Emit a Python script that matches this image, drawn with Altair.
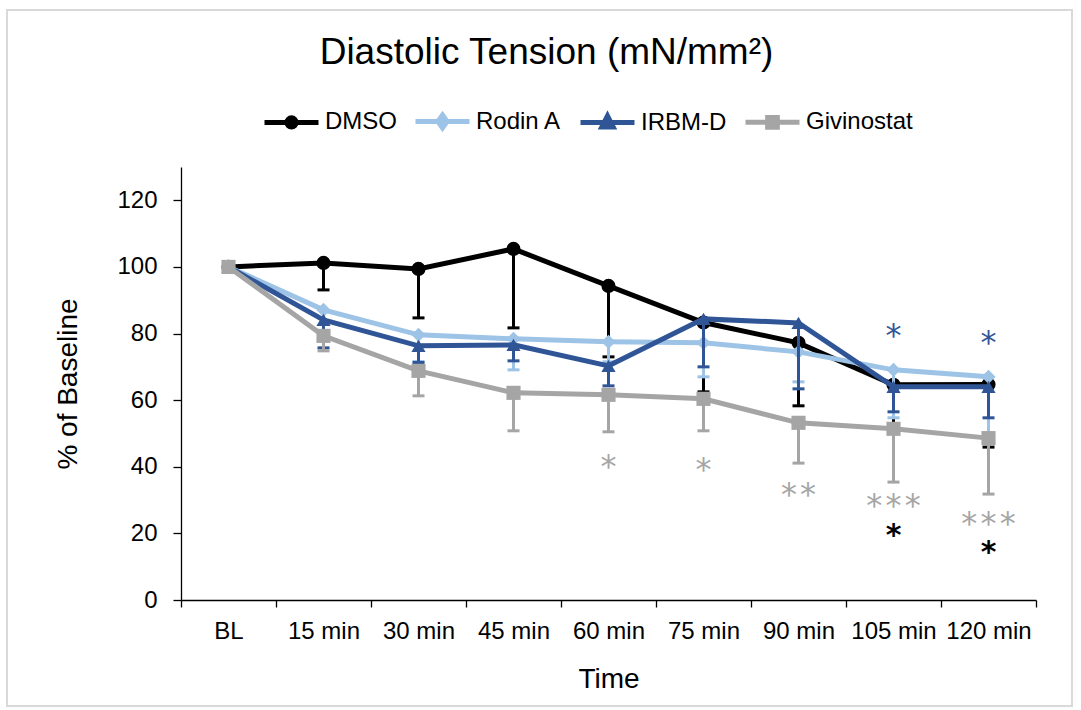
import altair as alt
import pandas as pd

# Time points and series definitions
times = ["BL", "15 min", "30 min", "45 min", "60 min", "75 min", "90 min", "105 min", "120 min"]
series_names = ["DMSO", "Rodin A", "IRBM-D", "Givinostat"]
series_colors = ["#000000", "#9DC3E6", "#2F5597", "#A5A5A5"]
series_shapes = ["circle", "diamond", "triangle-up", "square"]

# Mean diastolic tension (% of baseline)
dmso = [100, 101.2, 99.4, 105.4, 94.3, 83.3, 77.2, 64.6, 64.7]
rodin_a = [100, 87.1, 79.6, 78.4, 77.5, 77.2, 74.5, 69.1, 67.0]
irbm_d = [100, 84.1, 76.3, 76.6, 70.3, 84.4, 83.2, 64.0, 64.0]
givinostat = [100, 79.3, 68.8, 62.2, 61.6, 60.4, 53.2, 51.4, 48.6]

# Lower error (SEM)
dmso_sem = [0, 8.1, 14.7, 23.7, 21.3, 20.8, 18.9, 13.6, 18.8]
rodin_a_sem = [0, 6.5, 8.0, 9.3, 6.0, 10.2, 9.0, 14.4, 17.0]
irbm_d_sem = [0, 8.4, 5.0, 4.8, 6.0, 14.4, 19.8, 7.5, 9.3]
givinostat_sem = [0, 4.5, 7.5, 11.4, 11.1, 9.6, 12.1, 16.0, 16.8]

# Significance markers
HS = "\u200a"  # hair space between stars
sig_time = ["60 min", "75 min", "90 min", "105 min", "105 min", "120 min", "120 min", "105 min", "120 min"]
sig_y = [41.4, 40.5, 33.0, 29.7, 20.7, 24.3, 15.6, 80.8, 78.7]
sig_text = ["*", "*", HS.join("**"), HS.join("***"), "*", HS.join("***"), "*", "*", "*"]
sig_color = ["#A5A5A5", "#A5A5A5", "#A5A5A5", "#A5A5A5", "#000000", "#A5A5A5", "#000000", "#2F5597", "#2F5597"]

means = [dmso, rodin_a, irbm_d, givinostat]
sems = [dmso_sem, rodin_a_sem, irbm_d_sem, givinostat_sem]

rows = []
for name, m, e in zip(series_names, means, sems):
    for t, v, s in zip(times, m, e):
        rows.append({"time": t, "series": name, "value": v, "low": v - s})
df = pd.DataFrame(rows)

sig_df = pd.DataFrame({"time": sig_time, "y": sig_y, "label": sig_text, "color": sig_color})

FONT = "Liberation Sans"
STAR_FONT = "DejaVu Sans"

x_enc = alt.X(
    "time:N",
    sort=times,
    scale=alt.Scale(domain=times, paddingInner=0, paddingOuter=0),
    axis=alt.Axis(
        title="Time", labelAngle=0, tickBand="extent", labelFontSize=24,
        labelPadding=12, tickSize=7, titleFontSize=28, titlePadding=22,
        titleFontWeight="normal",
    ),
)
y_scale = alt.Scale(domain=[0, 130], nice=False)
y_enc = alt.Y(
    "value:Q",
    scale=y_scale,
    axis=alt.Axis(
        title="% of Baseline", values=[0, 20, 40, 60, 80, 100, 120], labelFontSize=24,
        labelPadding=16, tickSize=8, grid=False, titleFontSize=28, titlePadding=34,
        titleFontWeight="normal",
    ),
)

# Legend symbols: a line segment with the series marker on top
marker_paths = {
    "DMSO": "M-1,0H1M0.17,0A0.17,0.17 0 1 1 -0.17,0A0.17,0.17 0 1 1 0.17,0Z",
    "Rodin A": "M-1,0H1M0,-0.24L0.17,0L0,0.24L-0.17,0Z",
    "IRBM-D": "M-1,0H1M0,-0.25L0.21,0.16L-0.21,0.16Z",
    "Givinostat": "M-1,0H1M-0.18,-0.18H0.18V0.18H-0.18Z",
}
sym_expr = " : ".join(
    f"datum.value === '{k}' ? '{v}'" for k, v in list(marker_paths.items())[:-1]
) + f" : '{marker_paths['Givinostat']}'"

legend = alt.Legend(
    title=None, orient="none", direction="horizontal", legendX=81, legendY=-75,
    labelFontSize=24, labelFont=FONT, labelColor="#000000", labelOffset=4,
    columnPadding=8, symbolSize=2916, symbolStrokeWidth=5, symbolOpacity=1,
    symbolType=alt.ExprRef(expr=sym_expr),
    symbolFillColor=alt.ExprRef(expr="scale('color', datum.value)"),
    symbolStrokeColor=alt.ExprRef(expr="scale('color', datum.value)"),
)

color_enc = alt.Color(
    "series:N", sort=series_names,
    scale=alt.Scale(domain=series_names, range=series_colors),
    legend=legend,
)

base = alt.Chart(df)
layers = []
for name, shape in zip(series_names, series_shapes):
    sub = base.transform_filter(alt.datum.series == name)
    err = sub.mark_rule(strokeWidth=3).encode(
        x=x_enc, y=y_enc, y2="low:Q", color=color_enc
    )
    cap = sub.mark_tick(size=12, thickness=3, opacity=1).encode(
        x=x_enc, y=alt.Y("low:Q", scale=y_scale), color=color_enc
    )
    line = sub.mark_line(strokeWidth=5).encode(x=x_enc, y=y_enc, color=color_enc)
    pts = sub.mark_point(filled=True, shape=shape, size=200, opacity=1).encode(
        x=x_enc, y=y_enc, color=color_enc
    )
    layers += [err, cap, line, pts]

sig_base = alt.Chart(sig_df).encode(
    x=alt.X("time:N", sort=times),
    y=alt.Y("y:Q", scale=y_scale),
    text="label:N",
    color=alt.Color("color:N", scale=None),
)
sig_light = sig_base.transform_filter(alt.datum.color != "#000000").mark_text(
    font=STAR_FONT, fontSize=32, baseline="middle", dy=5
)
sig_dark = sig_base.transform_filter(alt.datum.color == "#000000").mark_text(
    font=STAR_FONT, fontSize=30, fontWeight="bold", baseline="middle", dy=5
)

# Outer frame of the figure
frame = alt.Chart(pd.DataFrame({"k": [0]})).mark_rect(
    fill=None, stroke="#D9D9D9", strokeWidth=2
).encode(x=alt.value(-174), x2=alt.value(891), y=alt.value(-157), y2=alt.value(539))

chart = alt.layer(frame, *layers, sig_light, sig_dark).properties(
    width=855,
    height=433,
    title=alt.TitleParams(
        "Diastolic Tension (mN/mm²)", fontSize=37, font=FONT, fontWeight="normal",
        color="#000000", anchor="middle", dx=-62, offset=-63,
    ),
    padding={"left": 181, "top": 167, "right": 45, "bottom": 110},
    autosize=alt.AutoSizeParams(type="none"),
).configure(font=FONT).configure_view(stroke=None).configure_axis(
    domainColor="#000000", tickColor="#000000", labelColor="#000000",
    titleColor="#000000", labelFont=FONT, titleFont=FONT, domainWidth=1.3, tickWidth=1.3,
)

chart.save("out.html", embed_options={"renderer": "svg", "actions": False})
